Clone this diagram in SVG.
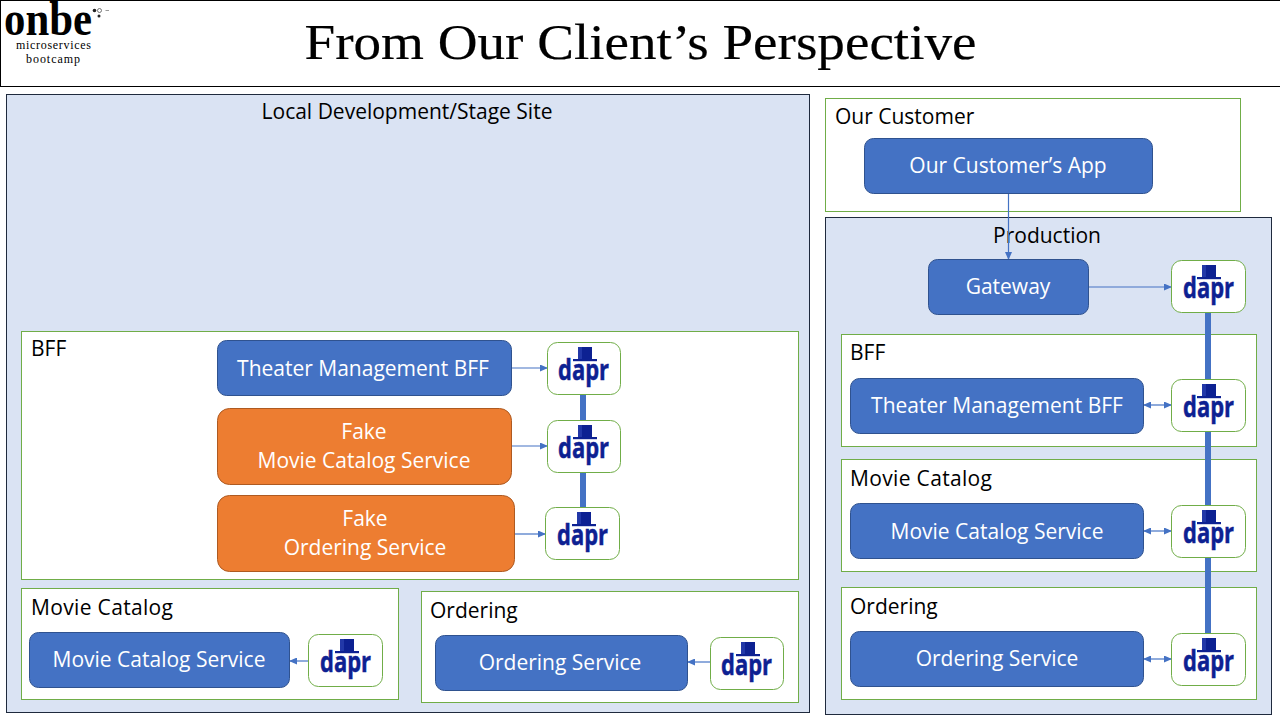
<svg xmlns="http://www.w3.org/2000/svg" xmlns:xlink="http://www.w3.org/1999/xlink" width="1280" height="720" viewBox="0 0 1280 720">
<style>
.t{font-family:"Open Sans","Noto Sans","Liberation Sans",sans-serif;font-size:21px;fill:#000}
.w{font-family:"Open Sans","Noto Sans","Liberation Sans",sans-serif;font-size:21px;fill:#fff;text-anchor:middle}
.s{font-family:"Liberation Serif",serif;fill:#000}
.panel{fill:#dae3f3;stroke:#1f2a3d;stroke-width:1}
.zone{fill:#fff;stroke:#70ad47;stroke-width:1}
.blue{fill:#4472c4;stroke:#2f528f;stroke-width:1}
.orange{fill:#ed7d31;stroke:#ae5a21;stroke-width:1}
.side{fill:#fff;stroke:#70ad47;stroke-width:1}
.d{font-family:"Open Sans","DejaVu Sans",sans-serif;font-size:29px;font-weight:700;fill:#0d2192;stroke:#0d2192;stroke-width:0.500}
.bus{stroke:#4472c4;stroke-width:6;fill:none}
.c{stroke:#4472c4;stroke-width:1.2;fill:none}
</style>
<defs>
<marker id="a" markerWidth="8" markerHeight="7" refX="7" refY="3.500" orient="auto-start-reverse" markerUnits="userSpaceOnUse"><path d="M0 0L8 3.500L0 7Z" fill="#4472c4"/></marker>
<g id="hat"><rect x="-7" y="-33" width="14" height="12" fill="#0d2192"/><rect x="-7" y="-33" width="4" height="12" fill="#2238a8"/><rect x="-12" y="-21" width="24" height="2.200" fill="#0d2192"/></g>
</defs>
<rect id="bg" width="1280" height="720" fill="#fff"/>
<g id="header">
<rect x="0.500" y="0.500" width="1290" height="86" fill="#fff" stroke="#000" stroke-width="1"/>
<text class="s" x="4" y="35" font-size="48" font-weight="700" textLength="88" lengthAdjust="spacingAndGlyphs">onbe</text>
<circle cx="94.500" cy="10.500" r="1.800" fill="#222"/><circle cx="99.500" cy="10.500" r="2" fill="none" stroke="#555" stroke-width="0.800"/><circle cx="99" cy="16" r="1.500" fill="#222"/><path d="M105.500 10.500H109" stroke="#999" stroke-width="1"/>
<text class="s" x="53.500" y="49" font-size="12" text-anchor="middle" textLength="75" lengthAdjust="spacing">microservices</text>
<text class="s" x="53" y="63" font-size="12" text-anchor="middle" textLength="54" lengthAdjust="spacing">bootcamp</text>
<text class="s" x="640.500" y="59" font-size="50" text-anchor="middle" textLength="672" lengthAdjust="spacingAndGlyphs" stroke="#000" stroke-width="0.200">From Our Client’s Perspective</text>
</g>
<g id="local-panel"><rect class="panel" x="6.500" y="94.500" width="803" height="618"/><text class="t" x="407" y="119" text-anchor="middle">Local Development/Stage Site</text></g>
<g id="bff-zone"><rect class="zone" x="21.500" y="331.500" width="777" height="248"/><text class="t" x="31" y="356">BFF</text></g>
<g id="movie-zone-left"><rect class="zone" x="21.500" y="588.500" width="377" height="111"/><text class="t" x="31" y="615" textLength="142" lengthAdjust="spacing">Movie Catalog</text></g>
<g id="ordering-zone-left"><rect class="zone" x="421.500" y="591.500" width="377" height="111"/><text class="t" x="430" y="618">Ordering</text></g>
<g id="customer-zone"><rect class="zone" x="825.500" y="98.500" width="415" height="113"/><text class="t" x="835" y="124">Our Customer</text></g>
<g id="production-panel"><rect class="panel" x="825.500" y="217.500" width="446" height="497"/><text class="t" x="1047" y="243" text-anchor="middle">Production</text></g>
<g id="bff-zone-right"><rect class="zone" x="841.500" y="334.500" width="415" height="112"/><text class="t" x="850" y="360">BFF</text></g>
<g id="movie-zone-right"><rect class="zone" x="841.500" y="459.500" width="415" height="112"/><text class="t" x="850" y="486" textLength="142" lengthAdjust="spacing">Movie Catalog</text></g>
<g id="ordering-zone-right"><rect class="zone" x="841.500" y="587.500" width="415" height="112"/><text class="t" x="850" y="614">Ordering</text></g>
<g id="connectors">
<path class="bus" d="M583 394V420M583 473V507M1208 313V379M1208 432V505M1208 558V633"/>
<path class="c" marker-end="url(#a)" d="M511 368H547"/>
<path class="c" marker-end="url(#a)" d="M512 446H547"/>
<path class="c" marker-end="url(#a)" d="M515 534H545"/>
<path class="c" marker-end="url(#a)" d="M308 661H290"/>
<path class="c" marker-end="url(#a)" d="M710 662H688"/>
<path class="c" marker-end="url(#a)" d="M1008.500 193V259"/>
<path class="c" marker-end="url(#a)" d="M1089 287H1171"/>
<path class="c" marker-start="url(#a)" marker-end="url(#a)" d="M1144 405H1171"/>
<path class="c" marker-start="url(#a)" marker-end="url(#a)" d="M1144 531H1171"/>
<path class="c" marker-start="url(#a)" marker-end="url(#a)" d="M1144 659H1171"/>
</g>
<g id="customer-app"><rect class="blue" x="864.500" y="138.500" width="288" height="55" rx="9"/><text class="w" x="1008" y="173">Our Customer’s App</text></g>
<g id="gateway"><rect class="blue" x="928.500" y="259.500" width="160" height="55" rx="9"/><text class="w" x="1008" y="294">Gateway</text></g>
<g id="theater-bff-left"><rect class="blue" x="217.500" y="340.500" width="294" height="55" rx="9"/><text class="w" x="363" y="376">Theater Management BFF</text></g>
<g id="fake-movie"><rect class="orange" x="217.500" y="408.500" width="294" height="76" rx="12"/><text class="w" x="364" y="439">Fake</text><text class="w" x="364" y="468">Movie Catalog Service</text></g>
<g id="fake-ordering"><rect class="orange" x="217.500" y="495.500" width="297" height="76" rx="12"/><text class="w" x="365" y="526">Fake</text><text class="w" x="365" y="555">Ordering Service</text></g>
<g id="movie-left"><rect class="blue" x="29.500" y="632.500" width="260" height="55" rx="9"/><text class="w" x="159" y="667">Movie Catalog Service</text></g>
<g id="ordering-left"><rect class="blue" x="435.500" y="635.500" width="252" height="55" rx="9"/><text class="w" x="560" y="670">Ordering Service</text></g>
<g id="theater-bff-right"><rect class="blue" x="850.500" y="378.500" width="293" height="55" rx="9"/><text class="w" x="997" y="413">Theater Management BFF</text></g>
<g id="movie-right"><rect class="blue" x="850.500" y="503.500" width="293" height="55" rx="9"/><text class="w" x="997" y="539">Movie Catalog Service</text></g>
<g id="ordering-right"><rect class="blue" x="850.500" y="631.500" width="293" height="55" rx="9"/><text class="w" x="997" y="666">Ordering Service</text></g>
<g id="dapr-1"><rect class="side" x="547.500" y="342.500" width="73" height="52" rx="10"/><use xlink:href="#hat" x="585" y="380"/><text class="d" x="558" y="380" textLength="51" lengthAdjust="spacingAndGlyphs">dapr</text></g>
<g id="dapr-2"><rect class="side" x="547.500" y="420.500" width="73" height="52" rx="10"/><use xlink:href="#hat" x="585" y="458"/><text class="d" x="558" y="458" textLength="51" lengthAdjust="spacingAndGlyphs">dapr</text></g>
<g id="dapr-3"><rect class="side" x="545.500" y="507.500" width="74" height="52" rx="10"/><use xlink:href="#hat" x="584" y="545"/><text class="d" x="557" y="545" textLength="51" lengthAdjust="spacingAndGlyphs">dapr</text></g>
<g id="dapr-4"><rect class="side" x="308.500" y="634.500" width="74" height="52" rx="10"/><use xlink:href="#hat" x="347" y="672"/><text class="d" x="320" y="672" textLength="51" lengthAdjust="spacingAndGlyphs">dapr</text></g>
<g id="dapr-5"><rect class="side" x="710.500" y="637.500" width="73" height="52" rx="10"/><use xlink:href="#hat" x="748" y="675"/><text class="d" x="721" y="675" textLength="51" lengthAdjust="spacingAndGlyphs">dapr</text></g>
<g id="dapr-6"><rect class="side" x="1171.500" y="260.500" width="74" height="52" rx="10"/><use xlink:href="#hat" x="1209" y="298"/><text class="d" x="1183" y="298" textLength="51" lengthAdjust="spacingAndGlyphs">dapr</text></g>
<g id="dapr-7"><rect class="side" x="1171.500" y="379.500" width="74" height="52" rx="10"/><use xlink:href="#hat" x="1209" y="417"/><text class="d" x="1183" y="417" textLength="51" lengthAdjust="spacingAndGlyphs">dapr</text></g>
<g id="dapr-8"><rect class="side" x="1171.500" y="505.500" width="74" height="52" rx="10"/><use xlink:href="#hat" x="1209" y="543"/><text class="d" x="1183" y="543" textLength="51" lengthAdjust="spacingAndGlyphs">dapr</text></g>
<g id="dapr-9"><rect class="side" x="1171.500" y="633.500" width="74" height="52" rx="10"/><use xlink:href="#hat" x="1209" y="671"/><text class="d" x="1183" y="671" textLength="51" lengthAdjust="spacingAndGlyphs">dapr</text></g>
</svg>
